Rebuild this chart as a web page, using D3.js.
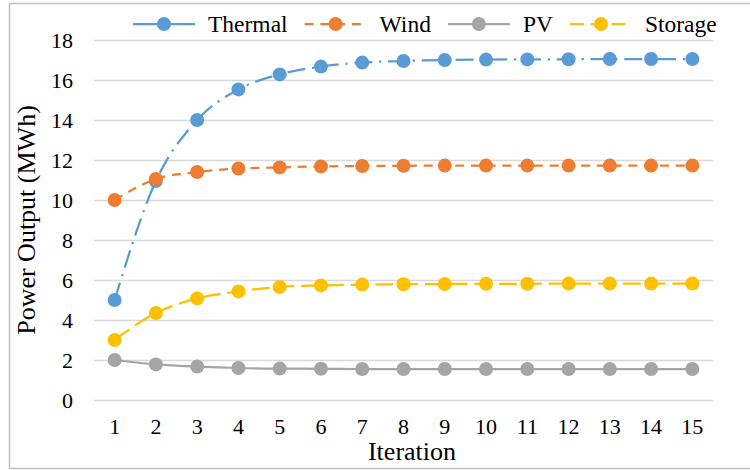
<!DOCTYPE html>
<html>
<head>
<meta charset="utf-8">
<script src="https://cdn.jsdelivr.net/npm/d3@7"></script>
<style>
  body { margin: 0; background: #fff; }
</style>
</head>
<body>
<div id="plot"></div>
<script>
var width = 750;
var height = 470;
var serif = '"Liberation Serif", "DejaVu Serif", serif';

// data
var iterations = [1, 2, 3, 4, 5, 6, 7, 8, 9, 10, 11, 12, 13, 14, 15];
var thermal = [5.0, 10.95, 14.0, 15.53, 16.28, 16.67, 16.87, 16.95, 17.0, 17.02, 17.03, 17.04, 17.05, 17.05, 17.05];
var wind = [10.0, 11.05, 11.4, 11.57, 11.63, 11.68, 11.7, 11.71, 11.72, 11.72, 11.72, 11.72, 11.72, 11.72, 11.72];
var pv = [2.0, 1.78, 1.67, 1.6, 1.57, 1.56, 1.55, 1.55, 1.55, 1.55, 1.55, 1.55, 1.55, 1.55, 1.55];
var storage = [3.0, 4.35, 5.08, 5.43, 5.65, 5.73, 5.77, 5.79, 5.8, 5.81, 5.81, 5.82, 5.82, 5.82, 5.82];
var yTicks = [0, 2, 4, 6, 8, 10, 12, 14, 16, 18];

var series = [
    { name: 'Thermal', values: thermal, color: '#5B9BD5', dash: '18,6.75,2.25,6.75', legendDash: null },
    { name: 'Wind', values: wind, color: '#ED7D31', dash: '9,6.75', legendDash: '9,6.75' },
    { name: 'PV', values: pv, color: '#A5A5A5', dash: null, legendDash: null },
    { name: 'Storage', values: storage, color: '#FFC000', dash: '18,6.75', legendDash: '14,6.75' }
];

var canvas = d3.select('#plot')
    .append('svg')
    .attr('width', width)
    .attr('height', height);

// chart border
canvas.append('rect')
    .attr('x', 9.5).attr('y', 3.5)
    .attr('width', 750).attr('height', 465)
    .attr('fill', 'none')
    .attr('stroke', '#BFBFBF')
    .attr('stroke-width', 1.5);

var x = d3.scaleBand()
    .domain(iterations)
    .range([94, 713]);

var y = d3.scaleLinear()
    .domain([0, 18])
    .range([400, 40]);

function cx(i) { return x(iterations[i]) + x.bandwidth() / 2; }

// gridlines + y tick labels
var yAxis = canvas.append('g')
    .attr('transform', 'translate(94,0)')
    .call(d3.axisLeft(y).tickValues(yTicks).tickSize(-(713 - 94)).tickPadding(21));
yAxis.select('.domain').remove();
yAxis.selectAll('line').attr('stroke', '#D9D9D9').attr('stroke-width', 1.5);
yAxis.selectAll('text')
    .style('font-family', serif)
    .style('font-size', '22px')
    .attr('fill', '#000');

// x tick labels
var xAxis = canvas.append('g')
    .attr('transform', 'translate(0,400)')
    .call(d3.axisBottom(x).tickSize(0).tickPadding(18));
xAxis.select('.domain').remove();
xAxis.selectAll('text')
    .style('font-family', serif)
    .style('font-size', '22px')
    .attr('fill', '#000');

// lines
var line_gen = d3.line()
    .curve(d3.curveMonotoneX)
    .x(function(d, i) { return cx(i); })
    .y(function(d) { return y(d); });

series.forEach(function(s) {
    canvas.append('path')
        .attr('d', line_gen(s.values))
        .attr('fill', 'none')
        .attr('stroke', s.color)
        .attr('stroke-width', 2.25)
        .attr('stroke-dasharray', s.dash);
    canvas.selectAll('circle.m-' + s.name)
        .data(s.values)
        .enter()
        .append('circle')
        .attr('class', 'm-' + s.name)
        .attr('cx', function(d, i) { return cx(i); })
        .attr('cy', function(d) { return y(d); })
        .attr('r', 7)
        .attr('fill', s.color);
});

// axis titles
canvas.append('text')
    .attr('transform', 'translate(35,220) rotate(-90)')
    .attr('text-anchor', 'middle')
    .style('font-family', serif)
    .style('font-size', '26px')
    .text('Power Output (MWh)');

canvas.append('text')
    .attr('x', 412)
    .attr('y', 460)
    .attr('text-anchor', 'middle')
    .style('font-family', serif)
    .style('font-size', '26px')
    .text('Iteration');

// legend
var legendX = 133;
var legendY = 24;
var lineLen = 62;
series.forEach(function(s) {
    var g = canvas.append('g').attr('transform', 'translate(' + legendX + ',' + legendY + ')');
    g.append('line')
        .attr('x1', 0).attr('x2', lineLen)
        .attr('y1', 0).attr('y2', 0)
        .attr('stroke', s.color)
        .attr('stroke-width', 2.25)
        .attr('stroke-dasharray', s.legendDash);
    g.append('circle')
        .attr('cx', lineLen / 2).attr('cy', 0)
        .attr('r', 7)
        .attr('fill', s.color);
    var t = g.append('text')
        .attr('x', lineLen + 13)
        .attr('y', 8)
        .style('font-family', serif)
        .style('font-size', '23.5px')
        .text(s.name);
    legendX += lineLen + 13 + t.node().getComputedTextLength() + 17;
});
</script>
</body>
</html>
